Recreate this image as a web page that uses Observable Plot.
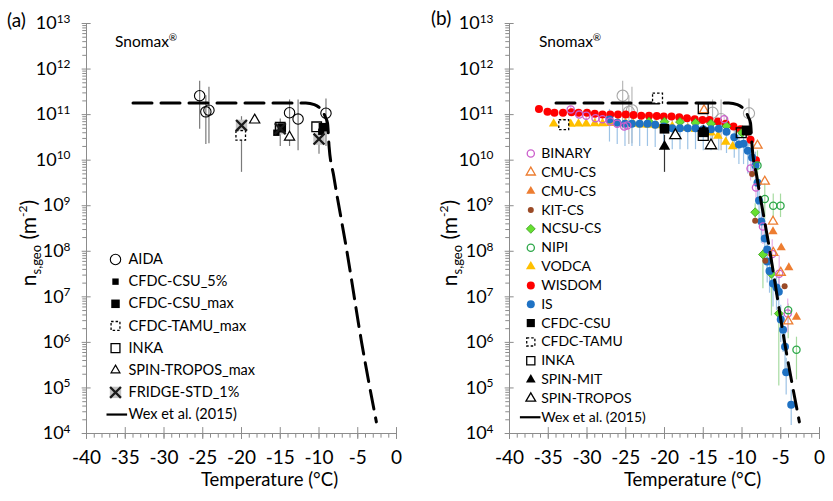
<!DOCTYPE html>
<html>
<head>
<meta charset="utf-8">
<script src="https://cdn.jsdelivr.net/npm/d3@7"></script>
<script src="https://cdn.jsdelivr.net/npm/@observablehq/plot@0.6"></script>
<style>
  body { margin: 0; background: #fff; }
  #wrap { display: flex; width: 833px; height: 501px; }
  #wrap svg { display: block; overflow: visible; }
</style>
</head>
<body>
<div id="wrap"><div id="a"></div><div id="b"></div></div>
<script>
// ---- axis ticks ----
const xMajor = [-40, -35, -30, -25, -20, -15, -10, -5, 0]
const yMajor = [1e4, 1e5, 1e6, 1e7, 1e8, 1e9, 1e10, 1e11, 1e12, 1e13]
const xMinor = d3.range(-40, 1)
const yMinor = yMajor.slice(0, -1).flatMap(d => [2, 3, 4, 5, 6, 7, 8, 9].map(k => k * d))

// ---- Wex et al. (2015) fit, both panels ----
const wexT  = [-34, -11.7, -10.6, -10.0, -9.6, -9.2, -8.9, -8.7, -8.1, -6.4, -4.5, -2.6]
const wexNs = [1.8e11, 1.8e11, 1.65e11, 1.45e11, 1.25e11, 9e10, 6.5e10, 2e10, 4.5e9, 1e8, 1e6, 1.8e4]

// ---- panel (a) ----
const aidaT  = [-25.4, -24.6, -24.2, -13.8, -12.7, -9.1]
const aidaNs = [2.6e11, 1.15e11, 1.25e11, 1.1e11, 8e10, 1.07e11]
const aidaLo = [4.8e10, 2.2e10, 2.3e10, 2e10, 1.6e10, 2e10]
const aidaHi = [5.4e11, 2.6e11, 4e11, 2.1e11, 2.1e11, 2.2e11]
const csu5T = [-15.5, -9.7]
const csu5Ns = [4e10, 4.2e10]
const csuMaxT = [-14.8, -9.5]
const csuMaxNs = [5.2e10, 5.3e10]
const tamuMaxT = [-20.1]
const tamuMaxNs = [3.5e10]
const inkaAT = [-15.0, -10.3]
const inkaANs = [5.3e10, 5.4e10]
const spinMaxT = [-18.3, -13.8]
const spinMaxNs = [7.6e10, 3.2e10]
const fridgeT  = [-20.0, -15.0, -10.0]
const fridgeNs = [5.8e10, 4.9e10, 2.9e10]
const fridgeLo = [5.4e9, 2e10, 1.35e10]
const fridgeHi = [9e10, 8e10, 4.5e10]

// ---- panel (b) ----
const binaryT  = [-32.1, -31.0, -30.1, -28.9, -28.0, -27.0, -26.1, -25.2, -24.8, -12.3, -8.9, -8.2, -7.3, -6.1, -5.2, -4.1]
const binaryNs = [1.3e11, 1.0e11, 9.5e10, 8.3e10, 7.9e10, 7.1e10, 6.3e10, 5.5e10, 5.8e10, 7.9e10, 6.6e9, 2.5e9, 3.5e8, 8.7e7, 3.2e7, 4.3e6]
const binaryLo = [1.1e11, 8.5e10, 8e10, 7e10, 6.6e10, 6e10, 5.3e10, 4.6e10, 4.9e10, 6.6e10, 3.5e9, 1.3e9, 1.4e8, 4e7, 1.2e7, 1.6e6]
const binaryHi = [1.5e11, 1.2e11, 1.1e11, 9.8e10, 9.3e10, 8.4e10, 7.4e10, 6.5e10, 6.8e10, 9.3e10, 1.2e10, 4.5e9, 8e8, 1.8e8, 8e7, 9e6]
const cmuOpenT  = [-14.9, -8.0, -7.06, -6.0, -5.97, -5.0, -4.04]
const cmuOpenNs = [1.26e11, 2.1e10, 3.4e9, 4.5e8, 9.3e7, 3.4e7, 2.9e6]
const cmuFillT  = [-6.0, -4.94, -3.96, -2.97]
const cmuFillNs = [2.7e8, 1.2e8, 4.4e7, 3.6e6]
const kitT  = [-8.7, -8.3, -7.0, -4.5]
const kitNs = [5e9, 4.7e8, 6.2e7, 1.7e7]
const ncsuT  = [-22, -20, -18, -16, -14, -12, -10, -8.3, -7.3, -6.2, -5.25]
const ncsuNs = [7e10, 7e10, 6.9e10, 6.6e10, 6.3e10, 5.6e10, 4e10, 7.2e8, 8.5e7, 3.2e7, 4.3e6]
const ncsuLo = [5.5e10, 5.5e10, 5.4e10, 5.2e10, 5e10, 4.4e10, 3.1e10, 4.5e8, 1.5e7, 3.8e6, 1.1e5]
const ncsuHi = [8.5e10, 8.5e10, 8.4e10, 8e10, 7.7e10, 6.8e10, 4.9e10, 1.1e9, 1.1e8, 4e7, 5.5e6]
const nipiT  = [-8.0, -7.06, -5.97, -5.03, -4.04, -2.97]
const nipiNs = [7.6e9, 1.4e9, 1e9, 1e9, 5.1e6, 6.9e5]
const nipiLo = [3e9, 5e8, 5.5e8, 5.5e8, 1.2e6, 1.5e5]
const nipiHi = [1.6e10, 3e9, 1.8e9, 1.8e9, 7e6, 1.3e6]
const vodcaT  = [-34.3, -33.1, -32.1, -31.1, -30.1, -29.0, -28.0, -27.0, -26.0, -25.0, -24.0, -23.0, -22.0, -21.0, -20.0, -19.0, -18.0, -17.0, -16.0, -15.1, -14.0, -13.1, -12.1, -11.2]
const vodcaNs = [6.3e10, 6.3e10, 6.2e10, 6.3e10, 6.3e10, 6.4e10, 6.4e10, 6.5e10, 6.5e10, 6.4e10, 6.2e10, 6.0e10, 5.9e10, 5.8e10, 5.6e10, 5.5e10, 5.3e10, 5.0e10, 4.8e10, 4.5e10, 4.0e10, 3.4e10, 2.5e10, 2.0e10]
const wisdomT  = [-36.2, -35.1, -34.2, -33.1, -32.0, -31.1, -30.0, -29.0, -28.0, -27.0, -26.0, -25.0, -24.0, -23.0, -22.0, -21.0, -20.1, -19.1, -18.1, -17.1, -16.1, -15.1, -14.2, -13.1, -12.1, -11.1, -10.2, -9.3, -8.9, -8.2]
const wisdomNs = [1.32e11, 1.15e11, 1.1e11, 1.1e11, 1.12e11, 1.1e11, 1.1e11, 1.05e11, 1.0e11, 1.0e11, 1.0e11, 1.0e11, 9.8e10, 9.5e10, 9.5e10, 9.3e10, 9.1e10, 9.1e10, 8.7e10, 8.3e10, 7.9e10, 7.6e10, 7.6e10, 7.1e10, 6.3e10, 5.5e10, 4.8e10, 4.2e10, 2.8e10, 1.0e10]
const isT  = [-27.1, -26.1, -25.1, -24.2, -23.2, -22.2, -21.2, -20.1, -19.0, -18.0, -17.0, -16.0, -15.0, -14.0, -13.0, -12.0, -11.0, -10.4, -9.8, -9.25, -8.7, -8.26, -8.0, -7.8, -7.5, -7.06, -6.75, -6.75, -6.45, -6.0, -5.55, -5.25, -5.0, -4.7, -4.45, -4.3, -3.65]
const isNs = [7.8e10, 6.6e10, 6.3e10, 6.3e10, 6.3e10, 6.3e10, 6.0e10, 5.5e10, 5.0e10, 5.0e10, 5.0e10, 5.0e10, 4.8e10, 4.8e10, 4.9e10, 4.2e10, 3.2e10, 2.2e10, 2.3e10, 1.6e10, 1.15e10, 7.6e9, 3.2e9, 1.3e9, 4.5e8, 1.9e8, 1.1e8, 6e7, 3.7e7, 1.95e7, 1.6e7, 1.3e7, 3.2e6, 1.9e6, 8e5, 2.2e5, 4.3e4]
const isLo = [2.5e10, 2.2e10, 2e10, 2e10, 2e10, 2e10, 1.9e10, 1.8e10, 1.7e10, 1.7e10, 1.7e10, 1.7e10, 1.6e10, 1.6e10, 1.6e10, 1.4e10, 1.1e10, 8e9, 8e9, 5e9, 4e9, 2.5e9, 1e9, 4e8, 1.5e8, 6e7, 3.5e7, 2e7, 1.2e7, 6e6, 5e6, 4e6, 1e6, 6e5, 2.5e5, 7e4, 1.5e4]
const isHi = [1.3e11, 1.1e11, 1.05e11, 1.05e11, 1.05e11, 1.05e11, 1e11, 9e10, 8.5e10, 8.5e10, 8.5e10, 8.5e10, 8e10, 8e10, 8e10, 7e10, 5.5e10, 4e10, 4e10, 3e10, 2.2e10, 1.5e10, 6e9, 2.6e9, 9e8, 4e8, 2.2e8, 1.2e8, 7.5e7, 4e7, 3.2e7, 2.6e7, 6.5e6, 4e6, 1.6e6, 4.5e5, 9e4]
const csuT  = [-20.0, -14.95, -9.4]
const csuNs = [4.9e10, 4.1e10, 4.5e10]
const tamuT  = [-33.0, -20.9]
const tamuNs = [6e10, 2.3e11]
const inkaT  = [-15.0, -15.0, -10.1]
const inkaNs = [1.35e11, 3.5e10, 4e10]
const spinMitT  = [-20.0, -14.95]
const spinMitNs = [2e10, 4.3e10]
const spinMitLo = [5.4e9, 3.5e10]
const spinMitHi = [3.5e10, 5e10]
const spinTrT  = [-18.6, -14.0]
const spinTrNs = [3.5e10, 2.1e10]

const legendA = ['AIDA', 'CFDC-CSU_5%', 'CFDC-CSU_max', 'CFDC-TAMU_max', 'INKA', 'SPIN-TROPOS_max', 'FRIDGE-STD_1%', 'Wex et al. (2015)']
const legendB = ['BINARY', 'CMU-CS', 'CMU-CS', 'KIT-CS', 'NCSU-CS', 'NIPI', 'VODCA', 'WISDOM', 'IS', 'CFDC-CSU', 'CFDC-TAMU', 'INKA', 'SPIN-MIT', 'SPIN-TROPOS', 'Wex et al. (2015)']

const FONT = 'Lato, "Open Sans", sans-serif'
const GRAY = '#8c8c8c'

const rows = (t, ns, lo, hi) => t.map((d, i) => ({t: d, ns: ns[i], lo: lo ? lo[i] : null, hi: hi ? hi[i] : null}))
const wex = rows(wexT, wexNs)

// marker styles
const lineSym = {draw(c) { c.moveTo(-10.3, 0); c.lineTo(10.3, 0) }}
const st = {
  aida:    {symbol: 'circle', fill: 'none', stroke: 'black', strokeWidth: 1.1, r: 5.2},
  csu5:    {symbol: 'square', fill: 'black', r: 3.6},
  csuMax:  {symbol: 'square', fill: 'black', r: 4.8},
  tamu:    {symbol: 'square', fill: 'white', stroke: 'black', strokeWidth: 1.3, strokeDasharray: '2.5,2', r: 5.4},
  inka:    {symbol: 'square', fill: 'none', stroke: 'black', strokeWidth: 1.3, r: 5.4},
  spinTr:  {symbol: 'triangle', fill: 'white', stroke: 'black', strokeWidth: 1.2, r: 3.8},
  fridgeBg:{symbol: 'square', fill: '#c4c4c4', r: 6.4},
  fridge:  {symbol: 'times', stroke: '#1a1a1a', strokeWidth: 2.3, r: 5},
  wex:     {symbol: lineSym, fill: 'none', stroke: 'black', strokeWidth: 2.2},
  binary:  {symbol: 'circle', fill: 'none', stroke: '#cc5fcc', strokeWidth: 1.3, r: 3.6},
  cmuOpen: {symbol: 'triangle', fill: 'none', stroke: '#ed7d31', strokeWidth: 1.3, r: 3.4},
  cmuFill: {symbol: 'triangle', fill: '#ed7d31', r: 3.4},
  kit:     {symbol: 'circle', fill: '#9a4a26', r: 3},
  ncsu:    {symbol: 'diamond2', fill: '#66e030', stroke: '#3a9a20', strokeWidth: 0.8, r: 4},
  nipi:    {symbol: 'circle', fill: 'none', stroke: '#2ea84a', strokeWidth: 1.3, r: 3.6},
  vodca:   {symbol: 'triangle', fill: '#ffc000', r: 3.6},
  wisdom:  {symbol: 'circle', fill: '#ff0000', r: 4},
  is:      {symbol: 'circle', fill: '#1f72c4', r: 4},
  csu:     {symbol: 'square', fill: 'black', r: 5.5},
  tamuB:   {symbol: 'square', fill: 'white', stroke: 'black', strokeWidth: 1.3, strokeDasharray: '2.5,2', r: 5.6},
  inkaB:   {symbol: 'square', fill: 'none', stroke: 'black', strokeWidth: 1.3, r: 5.6},
  spinMit: {symbol: 'triangle', fill: 'black', r: 4.2},
  spinTrB: {symbol: 'triangle', fill: 'white', stroke: 'black', strokeWidth: 1.3, r: 4.2}
}

const dots = (data, s) => Plot.dot(data, {x: 't', y: 'ns', ...s})
const errs = (data, stroke) => Plot.ruleX(data, {x: 't', y1: 'lo', y2: 'hi', stroke, strokeWidth: 1.2})
const wexLine = () => Plot.line(wex, {x: 't', y: 'ns', stroke: 'black', strokeWidth: 3, strokeDasharray: '19,9', curve: 'monotone-x'})

function axisMarks() {
  return [
    Plot.ruleY(yMinor, {x1: -40.48, x2: -40, stroke: GRAY}),
    Plot.ruleY(yMajor, {x1: -40.56, x2: -39.4, stroke: GRAY}),
    Plot.ruleX(xMinor, {y1: 7.9e3, y2: 1e4, stroke: GRAY}),
    Plot.ruleX(xMajor, {y1: 7.4e3, y2: 1.35e4, stroke: GRAY}),
    Plot.ruleX([-40], {stroke: GRAY}),
    Plot.ruleY([1e4], {stroke: GRAY}),
    Plot.axisY(yMajor, {tickSize: 0, tickPadding: 16, fontSize: 18, label: null,
      tickFormat: d => '10^' + Math.round(Math.log10(d))}),
    Plot.axisX(xMajor, {tickSize: 0, tickPadding: 17, fontSize: 19, label: null, tickFormat: d => String(d)})
  ]
}

// legend rows placed from the frame's top-left corner
function legend(labels, styles, o) {
  return labels.flatMap((label, i) => {
    const dy = o.y0 + i * o.step
    const marks = [].concat(styles[i]).map(s =>
      Plot.dot([label], {frameAnchor: 'top-left', dx: s.symbol === lineSym ? o.lx : o.mx, dy, ...s}))
    marks.push(Plot.text([label], {frameAnchor: 'top-left', lineAnchor: 'middle', dx: o.tx, dy, text: d => d,
      textAnchor: 'start', fontSize: o.fs}))
    return marks
  })
}

function panel(o) {
  const svg = Plot.plot({
    width: o.width, height: 501,
    marginLeft: o.ml, marginRight: o.mr, marginTop: 23, marginBottom: 68,
    style: {fontFamily: FONT, background: 'white', color: 'black'},
    x: {domain: [-40, 0], axis: null},
    y: {type: 'log', domain: [1e4, 1e13], axis: null},
    marks: [
      ...axisMarks(),
      ...o.marks,
      ...o.legend,
      Plot.text(['Temperature (°C)'], {frameAnchor: 'bottom', lineAnchor: 'middle', dx: 28, dy: 47, text: d => d, fontSize: 18.5})
    ]
  })
  const s = d3.select(svg)
  // superscript exponents on the y tick labels
  s.selectAll('g[aria-label="y-axis tick label"] text').each(function () {
    const parts = this.textContent.split('^')
    if (parts.length < 2) return
    const t = d3.select(this).text(null)
    t.append('tspan').text(parts[0])
    t.append('tspan').attr('dy', '-0.55em').attr('font-size', '0.66em').text(parts[1])
  })
  s.append('text').attr('x', o.px).attr('y', o.py).attr('text-anchor', 'start')
    .attr('font-size', 19).attr('font-family', FONT).text(o.tag)
  const sn = s.append('text').attr('x', o.sx).attr('y', 47).attr('text-anchor', 'start')
    .attr('font-size', 15.5).attr('font-family', FONT)
  sn.append('tspan').text('Snomax')
  sn.append('tspan').attr('dy', -6).attr('font-size', 10).text('®')
  const yt = s.append('text').attr('transform', `translate(${o.yx},243) rotate(-90)`)
    .attr('text-anchor', 'middle').attr('font-size', 21).attr('font-family', FONT)
  yt.append('tspan').text('n')
  yt.append('tspan').attr('dy', 5).attr('font-size', 13).text('s,geo')
  yt.append('tspan').attr('dy', -5).text(' (m')
  yt.append('tspan').attr('dy', -9).attr('font-size', 12).text('-2')
  yt.append('tspan').attr('dy', 9).text(')')
  return svg
}

const aida = rows(aidaT, aidaNs, aidaLo, aidaHi)
const fridge = rows(fridgeT, fridgeNs, fridgeLo, fridgeHi)

const chartA = panel({
  width: 416, ml: 86, mr: 20, tag: '(a)', px: 7, py: 27, sx: 115, yx: 36,
  marks: [
    errs(aida, '#7a7a7a'),
    errs(fridge, '#7a7a7a'),
    wexLine(),
    dots(aida, st.aida),
    dots(fridge, st.fridgeBg),
    dots(rows(tamuMaxT, tamuMaxNs), st.tamu),
    dots(rows(inkaAT, inkaANs), st.inka),
    dots(rows(csuMaxT, csuMaxNs), st.csuMax),
    dots(rows(csu5T, csu5Ns), st.csu5),
    dots(rows(spinMaxT, spinMaxNs), st.spinTr),
    dots(fridge, st.fridge)
  ],
  legend: legend(legendA,
    [st.aida, st.csu5, st.csuMax, {...st.tamu, r: 5}, {...st.inka, r: 5}, {...st.spinTr, r: 3.3}, [st.fridgeBg, st.fridge], st.wex],
    {mx: 29, lx: 30.3, tx: 42, y0: 236, step: 22.15, fs: 14.5})
})

const chartB = panel({
  width: 417, ml: 93, mr: 14, tag: '(b)', px: 15, py: 25, sx: 123, yx: 41,
  marks: [
    errs(aida, '#b8b8b8'),
    dots(aida, {...st.aida, stroke: '#a8a8a8', r: 5.6}),
    errs(rows(isT, isNs, isLo, isHi), '#9dc3e6'),
    errs(rows(nipiT, nipiNs, nipiLo, nipiHi), '#a6dba0'),
    errs(rows(ncsuT, ncsuNs, ncsuLo, ncsuHi), '#a6dba0'),
    errs(rows(binaryT, binaryNs, binaryLo, binaryHi), '#e8b0e8'),
    errs(rows(spinMitT, spinMitNs, spinMitLo, spinMitHi), '#333'),
    dots(rows(vodcaT, vodcaNs), st.vodca),
    dots(rows(wisdomT, wisdomNs), st.wisdom),
    dots(rows(ncsuT, ncsuNs), st.ncsu),
    dots(rows(isT, isNs), st.is),
    dots(rows(binaryT, binaryNs), st.binary),
    dots(rows(kitT, kitNs), st.kit),
    dots(rows(cmuOpenT, cmuOpenNs), st.cmuOpen),
    dots(rows(cmuFillT, cmuFillNs), st.cmuFill),
    dots(rows(nipiT, nipiNs), st.nipi),
    wexLine(),
    dots(rows(inkaT, inkaNs), st.inkaB),
    dots(rows(tamuT, tamuNs), st.tamuB),
    dots(rows(csuT, csuNs), st.csu),
    dots(rows(spinTrT, spinTrNs), st.spinTrB),
    dots(rows(spinMitT, spinMitNs), st.spinMit)
  ],
  legend: legend(legendB,
    [st.binary, st.cmuOpen, st.cmuFill, st.kit, st.ncsu, st.nipi, st.vodca, st.wisdom, st.is,
     {...st.csu, r: 4.6}, {...st.tamuB, r: 4.6}, {...st.inkaB, r: 4.6}, {...st.spinMit, r: 3.6}, {...st.spinTrB, r: 3.6}, st.wex],
    {mx: 21.3, lx: 20.7, tx: 31.7, y0: 130, step: 18.84, fs: 14})
})

d3.select('#a').append(() => chartA)
d3.select('#b').append(() => chartB)
</script>
</body>
</html>
